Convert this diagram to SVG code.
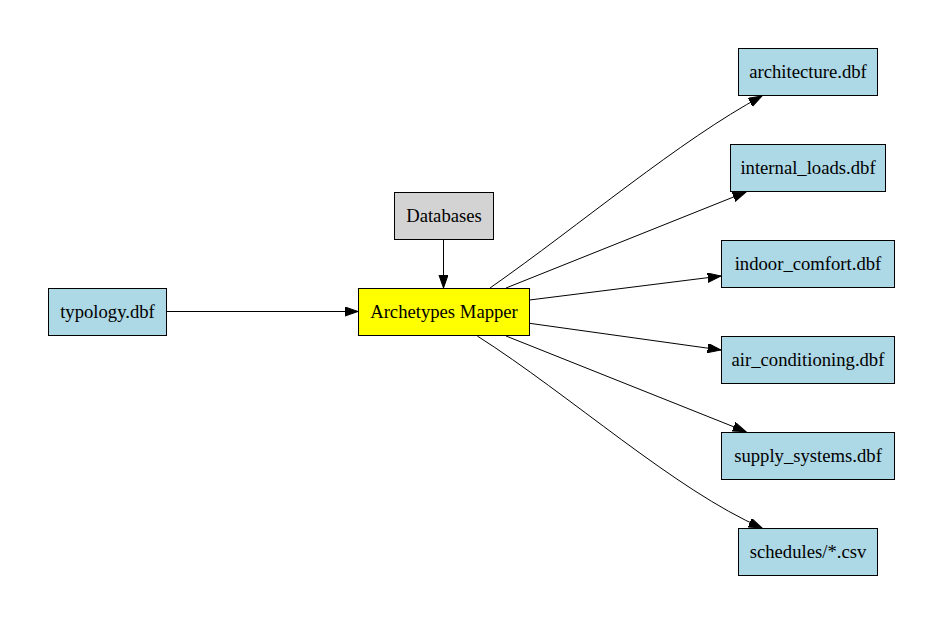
<svg xmlns="http://www.w3.org/2000/svg" width="943" height="624" viewBox="0 0 943 624">
<style>
.n rect{stroke:#000;stroke-width:1}
.n text{font-family:"Liberation Serif","Times New Roman",serif;font-size:18.67px;text-anchor:middle;fill:#000}
.f{fill:#add8e6}
.e path{fill:none;stroke:#000;stroke-width:1}
</style>
<defs>
<marker id="ah" markerUnits="userSpaceOnUse" markerWidth="14" markerHeight="10" refX="13.3" refY="4.67" orient="auto" viewBox="0 0 14 10">
<path d="M0,0 L13.3,4.67 L0,9.33 Z" fill="#000" stroke="#000" stroke-width="1"/>
</marker>
</defs>
<rect width="943" height="624" fill="#fff"/>
<g id="edges" class="e">
<path d="M166.5,311.5 L358,311.5" marker-end="url(#ah)"/>
<path d="M443.5,240 L443.5,288" marker-end="url(#ah)"/>
<path d="M490,288 C580,225 680,140 762,96" marker-end="url(#ah)"/>
<path d="M506,288 L746,192" marker-end="url(#ah)"/>
<path d="M529.5,300 L721,276" marker-end="url(#ah)"/>
<path d="M529.5,323.3 L721,350" marker-end="url(#ah)"/>
<path d="M506,336 L746,431.7" marker-end="url(#ah)"/>
<path d="M477.3,336 C570,395 675,490 762,528" marker-end="url(#ah)"/>
</g>
<g id="typology" class="n"><rect class="f" x="48.5" y="288.5" width="118" height="47"/><text x="107.5" y="317.5">typology.dbf</text></g>
<g id="databases" class="n"><rect fill="#d3d3d3" x="394.5" y="192.5" width="99" height="47"/><text x="444" y="221.5">Databases</text></g>
<g id="mapper" class="n"><rect fill="#ffff00" x="358.5" y="288.5" width="171" height="47"/><text x="444" y="317.5">Archetypes Mapper</text></g>
<g id="architecture" class="n"><rect class="f" x="738.5" y="48.5" width="139" height="47"/><text x="808" y="77.5">architecture.dbf</text></g>
<g id="internal_loads" class="n"><rect class="f" x="730.5" y="144.5" width="155" height="47"/><text x="808" y="173.5">internal_loads.dbf</text></g>
<g id="indoor_comfort" class="n"><rect class="f" x="721.5" y="240.5" width="173" height="47"/><text x="808" y="269.5">indoor_comfort.dbf</text></g>
<g id="air_conditioning" class="n"><rect class="f" x="721.5" y="336.5" width="173" height="47"/><text x="808" y="365.5">air_conditioning.dbf</text></g>
<g id="supply_systems" class="n"><rect class="f" x="721.5" y="432.5" width="173" height="47"/><text x="808" y="461.5">supply_systems.dbf</text></g>
<g id="schedules" class="n"><rect class="f" x="738.5" y="528.5" width="139" height="47"/><text x="808" y="557.5">schedules/*.csv</text></g>
</svg>
